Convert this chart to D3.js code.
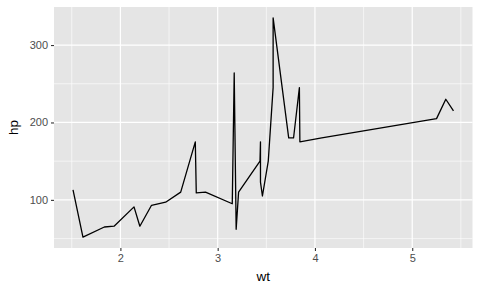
<!DOCTYPE html>
<html lang="en">
  <head>
    <meta charset="utf-8" />
    <title>hp vs wt</title>
    <script src="https://d3js.org/d3.v7.min.js"></script>
    <style>
      body {
        margin: 0;
        background: #fff;
      }
      .tick text {
        font-family: "Liberation Sans", Arial, sans-serif;
        font-size: 11px;
        fill: #4d4d4d;
      }
      .title {
        font-family: "Liberation Sans", Arial, sans-serif;
        font-size: 13.5px;
        font-weight: normal;
        fill: #000;
      }
    </style>
  </head>
  <body>
    <svg id="chart"></svg>
    <script>
      // mtcars: weight (1000 lbs) and gross horsepower, in dataset order
      const wt = [2.62, 2.875, 2.32, 3.215, 3.44, 3.46, 3.57, 3.19, 3.15, 3.44, 3.44, 4.07, 3.73, 3.78, 5.25, 5.424,
        5.345, 2.2, 1.615, 1.835, 2.465, 3.52, 3.435, 3.84, 3.845, 1.935, 2.14, 1.513, 3.17, 2.77, 3.57, 2.78];
      const hp = [110, 110, 93, 110, 175, 105, 245, 62, 95, 123, 123, 180, 180, 180, 205, 215,
        230, 66, 52, 65, 97, 150, 150, 245, 175, 66, 91, 113, 264, 175, 335, 109];
      const xTicks = [2, 3, 4, 5];
      const yTicks = [100, 200, 300];
      const xMinor = [1.5, 2.5, 3.5, 4.5, 5.5];
      const yMinor = [50, 150, 250, 350];

      const W = 480;
      const H = 288;
      const panel = { left: 54, right: 472.5, top: 7, bottom: 248 };

      const data = wt.map((w, i) => ({ wt: w, hp: hp[i] })).sort((a, b) => a.wt - b.wt);

      const xExt = d3.extent(data, (d) => d.wt);
      const yExt = d3.extent(data, (d) => d.hp);
      const xPad = (xExt[1] - xExt[0]) * 0.05;
      const yPad = (yExt[1] - yExt[0]) * 0.05;

      const x = d3.scaleLinear().domain([xExt[0] - xPad, xExt[1] + xPad]).range([panel.left, panel.right]);
      const y = d3.scaleLinear().domain([yExt[0] - yPad, yExt[1] + yPad]).range([panel.bottom, panel.top]);

      const svg = d3.select("#chart").attr("width", W).attr("height", H);

      svg
        .append("rect")
        .attr("x", panel.left)
        .attr("y", panel.top)
        .attr("width", panel.right - panel.left)
        .attr("height", panel.bottom - panel.top)
        .attr("fill", "#e5e5e5");

      const grid = svg.append("g").attr("stroke", "#fff");
      grid
        .selectAll(".xminor")
        .data(xMinor.filter((v) => x(v) < panel.right))
        .join("line")
        .attr("x1", (d) => x(d))
        .attr("x2", (d) => x(d))
        .attr("y1", panel.top)
        .attr("y2", panel.bottom)
        .attr("stroke-width", 0.6);
      grid
        .selectAll(".yminor")
        .data(yMinor.filter((v) => y(v) > panel.top))
        .join("line")
        .attr("x1", panel.left)
        .attr("x2", panel.right)
        .attr("y1", (d) => y(d))
        .attr("y2", (d) => y(d))
        .attr("stroke-width", 0.6);
      grid
        .selectAll(".xmajor")
        .data(xTicks)
        .join("line")
        .attr("x1", (d) => x(d))
        .attr("x2", (d) => x(d))
        .attr("y1", panel.top)
        .attr("y2", panel.bottom)
        .attr("stroke-width", 1.2);
      grid
        .selectAll(".ymajor")
        .data(yTicks)
        .join("line")
        .attr("x1", panel.left)
        .attr("x2", panel.right)
        .attr("y1", (d) => y(d))
        .attr("y2", (d) => y(d))
        .attr("stroke-width", 1.2);

      const line = d3
        .line()
        .x((d) => x(d.wt))
        .y((d) => y(d.hp));

      svg
        .append("path")
        .datum(data)
        .attr("d", line)
        .attr("fill", "none")
        .attr("stroke", "#000")
        .attr("stroke-width", 1.3)
        .attr("stroke-linejoin", "round");

      // axes
      const xAxis = d3.axisBottom(x).tickValues(xTicks).tickFormat(d3.format("d")).tickSize(3).tickPadding(3);
      const gx = svg.append("g").attr("transform", `translate(0,${panel.bottom})`).call(xAxis);
      const yAxis = d3.axisLeft(y).tickValues(yTicks).tickFormat(d3.format("d")).tickSize(3).tickPadding(3);
      const gy = svg.append("g").attr("transform", `translate(${panel.left},0)`).call(yAxis);
      [gx, gy].forEach((g) => {
        g.attr("font-family", null).attr("font-size", null);
        g.select(".domain").remove();
        g.selectAll(".tick line").attr("stroke", "#333").attr("stroke-width", 1.1);
      });

      svg
        .append("text")
        .attr("class", "title")
        .attr("x", (panel.left + panel.right) / 2)
        .attr("y", 281)
        .attr("text-anchor", "middle")
        .text("wt");

      svg
        .append("text")
        .attr("class", "title")
        .attr("transform", `translate(18,${(panel.top + panel.bottom) / 2}) rotate(-90)`)
        .attr("text-anchor", "middle")
        .text("hp");
    </script>
  </body>
</html>
